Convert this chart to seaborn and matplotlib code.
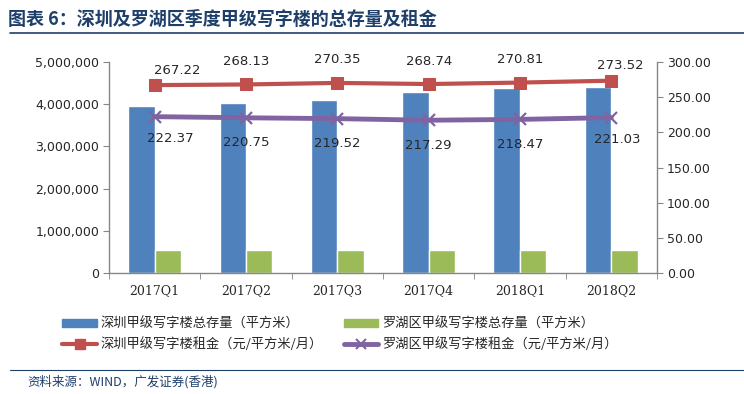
import numpy as np
import pandas as pd
import matplotlib
matplotlib.use('Agg')
import matplotlib.pyplot as plt
import seaborn as sns
from matplotlib.lines import Line2D
from matplotlib.patches import Patch

# ── data ──────────────────────────────────────────────────────────────
quarters = ['2017Q1', '2017Q2', '2017Q3', '2017Q4', '2018Q1', '2018Q2']
sz_stock = [3970000, 4030000, 4100000, 4290000, 4380000, 4410000]
lh_stock = [550000, 550000, 550000, 550000, 550000, 550000]
sz_rent = [267.22, 268.13, 270.35, 268.74, 270.81, 273.52]
lh_rent = [222.37, 220.75, 219.52, 217.29, 218.47, 221.03]

lbl_sz_stock = '深圳甲级写字楼总存量（平方米）'
lbl_lh_stock = '罗湖区甲级写字楼总存量（平方米）'
lbl_sz_rent = '深圳甲级写字楼租金（元/平方米/月）'
lbl_lh_rent = '罗湖区甲级写字楼租金（元/平方米/月）'

title = '图表 6：深圳及罗湖区季度甲级写字楼的总存量及租金'
source = '资料来源：WIND，广发证券(香港)'

# ── style ─────────────────────────────────────────────────────────────
sns.set_style('white')
plt.rcParams['font.family'] = ['DejaVu Sans', 'Noto Sans CJK SC']
CJK = ['Noto Sans CJK SC', 'DejaVu Sans']

blue, green = '#4F81BD', '#9BBB59'
red, purple = '#C0504D', '#8064A2'
axis_grey = '#868686'
navy = '#1F3F6B'

bars = pd.DataFrame({
    'quarter': quarters * 2,
    'value': sz_stock + lh_stock,
    'series': [lbl_sz_stock] * 6 + [lbl_lh_stock] * 6,
})
rents = pd.DataFrame({'quarter': quarters, 'sz': sz_rent, 'lh': lh_rent})

fig = plt.figure(figsize=(7.44, 3.94), dpi=100)
ax = fig.add_axes([0.1465, 0.307, 0.7365, 0.5355])

sns.barplot(data=bars, x='quarter', y='value', hue='series',
            palette=[blue, green], width=0.58, gap=0, ax=ax,
            legend=False, saturation=1)
ax.set_xlim(-0.5, 5.5)
ax.set_ylim(0, 5000000)
ax.set_yticks(np.arange(0, 5000001, 1000000))
ax.yaxis.set_major_formatter(matplotlib.ticker.FuncFormatter(lambda v, p: f'{int(v):,}'))
ax.set_xlabel('')
ax.set_ylabel('')

ax2 = ax.twinx()
sns.lineplot(data=rents, x='quarter', y='sz', color=red, lw=3, marker='s',
             markersize=8.5, markeredgecolor=red, sort=False, ax=ax2)
sns.lineplot(data=rents, x='quarter', y='lh', color=purple, lw=3.5, marker='x',
             markersize=9, markeredgewidth=1.6, markeredgecolor=purple,
             sort=False, ax=ax2)
ax2.set_ylim(0, 300)
ax2.set_yticks(np.arange(0, 301, 50))
ax2.yaxis.set_major_formatter(matplotlib.ticker.FormatStrFormatter('%.2f'))
ax2.set_xlim(-0.5, 5.5)
ax2.set_ylabel('')

# data labels, placed like Excel does (ends nudged sideways), offsets in px
px = 72 / 100
red_off = [(23, 15), (0, 23), (0, 23), (0, 23), (0, 23), (9, 15)]
pur_off = [(16, -22), (0, -25), (0, -25), (0, -25), (0, -25), (6, -22)]
for i, (a, b) in enumerate(zip(sz_rent, lh_rent)):
    ax2.annotate(f'{a:.2f}', (i, a), xytext=(red_off[i][0] * px, red_off[i][1] * px),
                 textcoords='offset points', ha='center', va='center', fontsize=9.5)
    ax2.annotate(f'{b:.2f}', (i, b), xytext=(pur_off[i][0] * px, pur_off[i][1] * px),
                 textcoords='offset points', ha='center', va='center', fontsize=9.5)

# axes styling (Excel look)
for a_ in (ax, ax2):
    for s in a_.spines.values():
        s.set_visible(False)
ax.spines['left'].set_visible(True)
ax.spines['bottom'].set_visible(True)
ax2.spines['right'].set_visible(True)
for s in (ax.spines['left'], ax.spines['bottom'], ax2.spines['right']):
    s.set_color(axis_grey)
    s.set_linewidth(1)

ax.tick_params(axis='y', direction='out', length=4, color=axis_grey, labelsize=9, pad=3, left=True)
ax2.tick_params(axis='y', direction='out', length=4, color=axis_grey, labelsize=9, pad=3, right=True)
ax.set_xticks(range(6))
ax.set_xticklabels(quarters, fontfamily='DejaVu Serif', fontsize=9)
ax.tick_params(axis='x', length=0, pad=8)
ax.set_xticks(np.arange(-0.5, 6, 1), minor=True)
ax.tick_params(axis='x', which='minor', direction='out', length=4, color=axis_grey, bottom=True)

# legend
handles = [
    Patch(color=blue),
    Line2D([], [], color=red, lw=3, marker='s', markersize=7.5),
    Patch(color=green),
    Line2D([], [], color=purple, lw=3.5, marker='x', markersize=7.5, markeredgewidth=1.5),
]
labels = [lbl_sz_stock, lbl_sz_rent, lbl_lh_stock, lbl_lh_rent]
fig.legend(handles, labels, ncol=2, loc='upper left', bbox_to_anchor=(0.068, 0.225),
           frameon=False, prop={'family': CJK, 'size': 9.5},
           handlelength=2.6, handleheight=0.6, handletextpad=0.3,
           columnspacing=1.6, labelspacing=0.55)

# title, rules and source
fig.text(0.011, 0.952, title, fontsize=13, fontweight='bold', color=navy,
         family=CJK, ha='left', va='center')
fig.add_artist(Line2D([0.013, 1.0], [0.917, 0.917], color=navy, lw=1.2))
fig.add_artist(Line2D([0.013, 1.0], [0.06, 0.06], color=navy, lw=0.8))
fig.text(0.037, 0.03, source, fontsize=9, style='italic', color=navy,
         family=CJK, ha='left', va='center')

fig.savefig('out.png', dpi=100)
